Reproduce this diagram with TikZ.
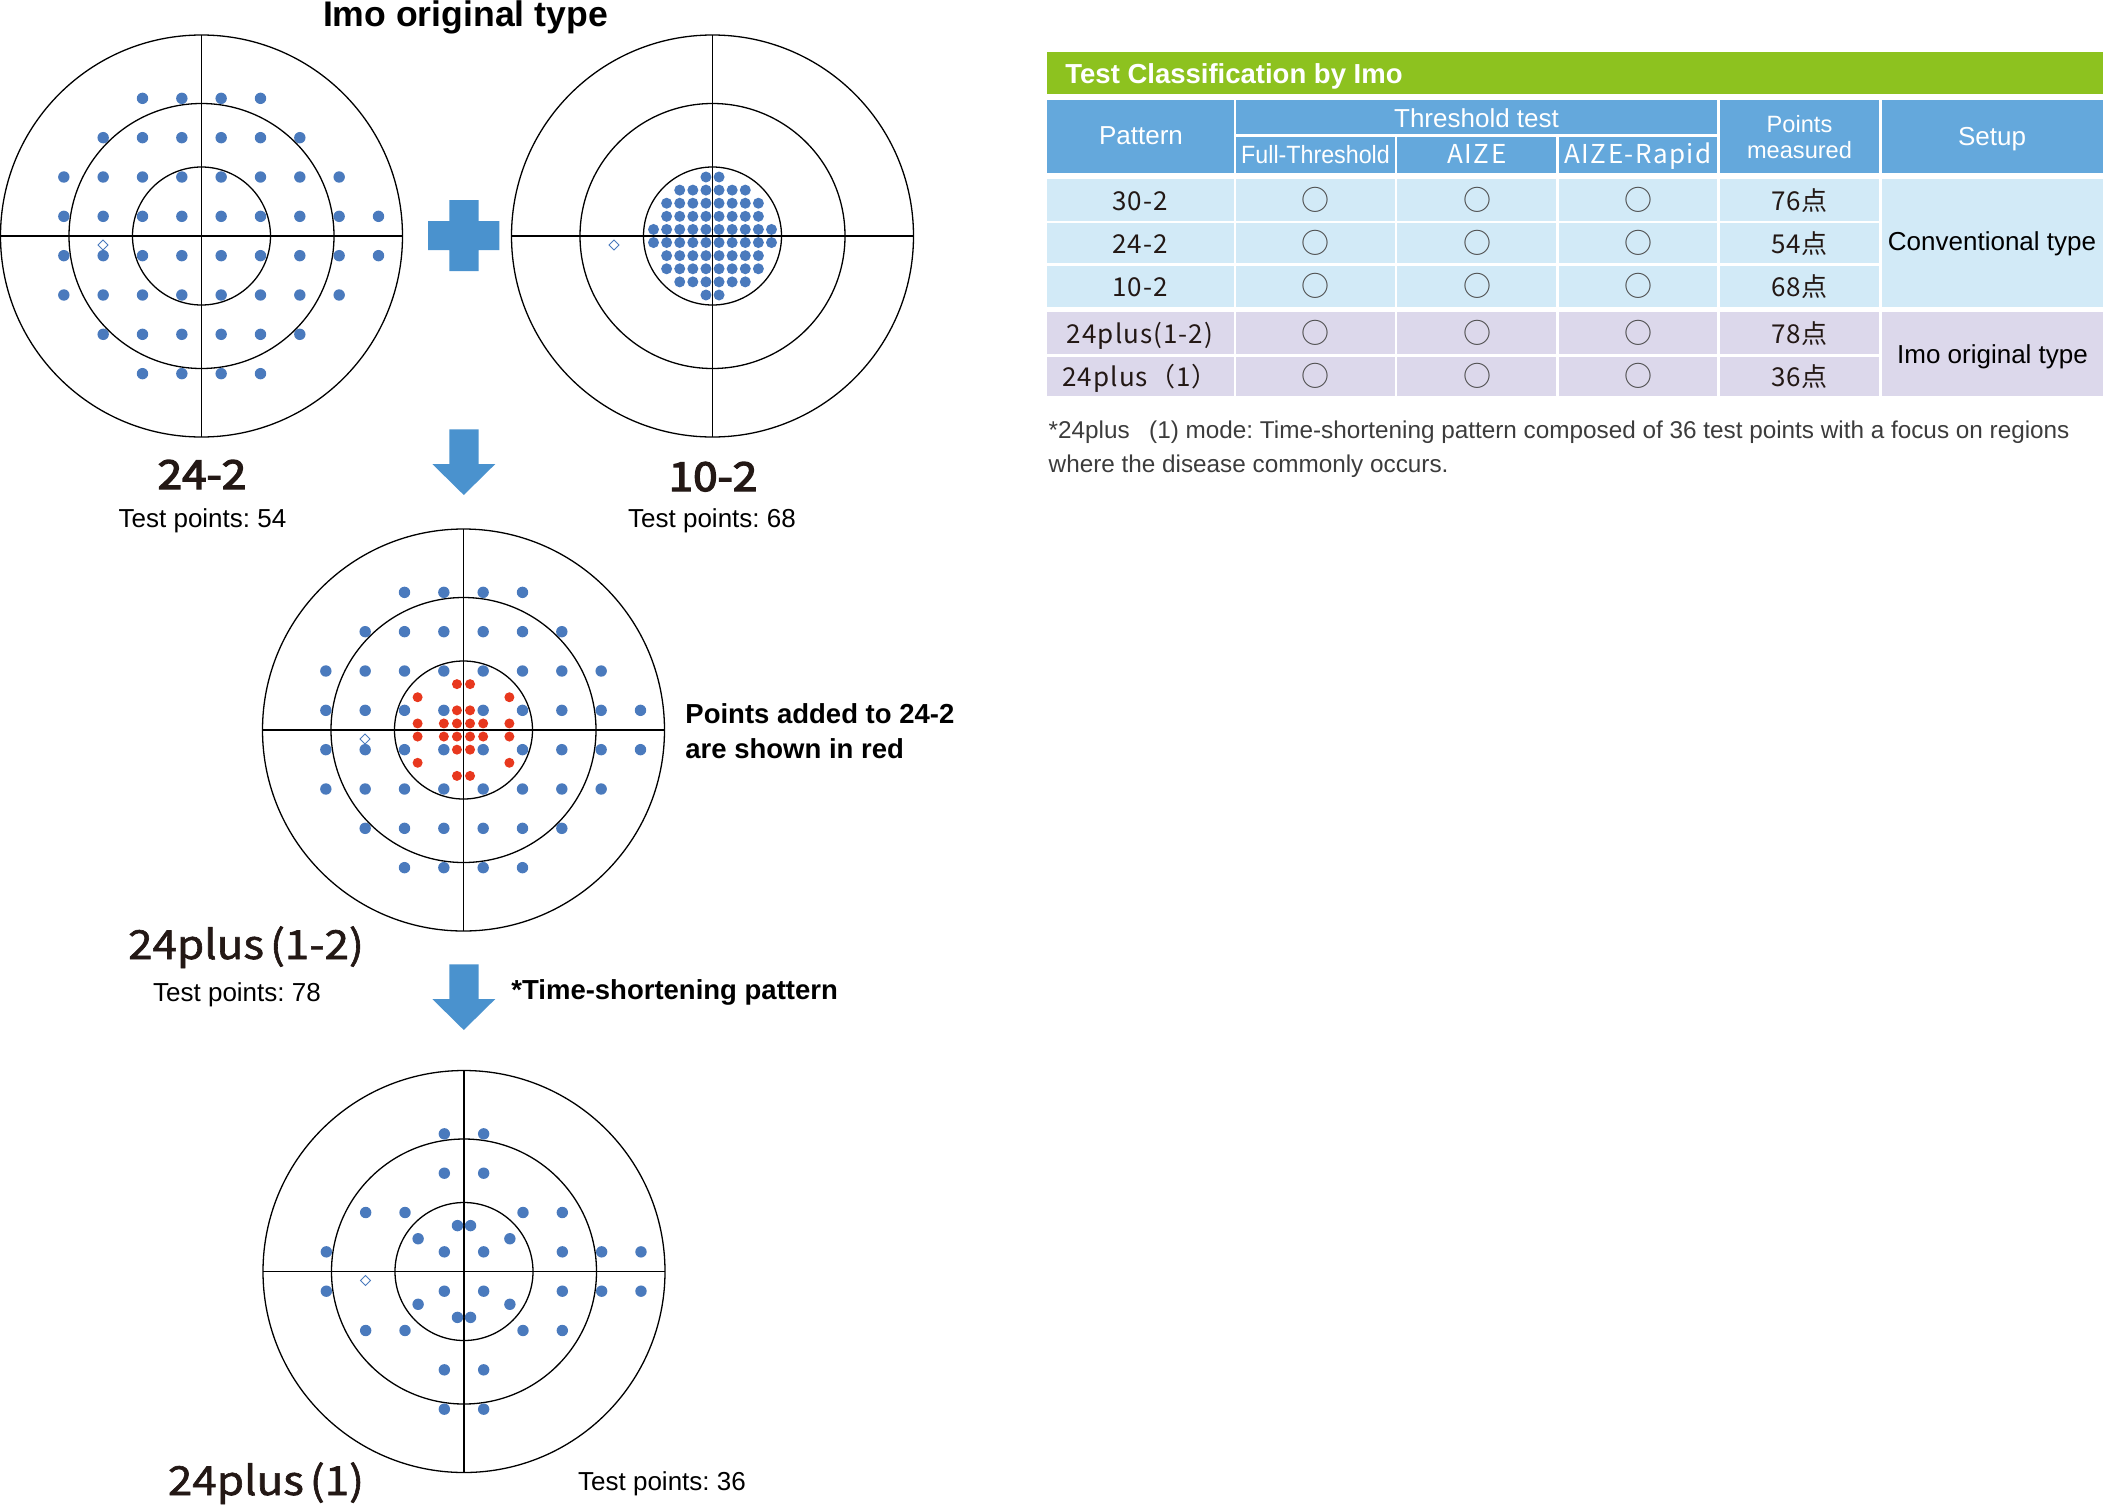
\documentclass[tikz,border=0pt]{standalone}
\usepackage{fontspec}
\setmainfont{Liberation Sans}
\newfontfamily\jpfont{Noto Sans CJK JP}
\newfontfamily\jpwide[LetterSpace=4]{Noto Sans CJK JP}
\newfontfamily\jpspaced[LetterSpace=5.5]{Noto Sans CJK JP}
\newfontfamily\labelfont[FakeStretch=1.1, FakeBold=1.5]{Noto Sans CJK JP}
\newfontfamily\labelsemi[FakeStretch=1.1, FakeBold=3.5]{Noto Sans CJK JP}
\newfontfamily\narrowfont[FakeStretch=0.93]{Liberation Sans}
\usepackage{xcolor}
\usepackage{tikz}
\frenchspacing

\definecolor{dotblue}{RGB}{74,122,189}
\definecolor{dotred}{RGB}{232,56,30}
\definecolor{arrowblue}{RGB}{74,146,206}
\definecolor{barGreen}{RGB}{141,194,31}
\definecolor{headBlue}{RGB}{100,168,220}
\definecolor{rowBlue}{RGB}{210,234,247}
\definecolor{rowPurple}{RGB}{220,216,235}
\definecolor{inkdark}{RGB}{35,24,21}
\definecolor{notegray}{RGB}{60,60,60}

\begin{document}
\begin{tikzpicture}[x=0.5pt, y=-0.5pt,
        every node/.style={inner sep=0pt},
        ring/.style={draw=black, line width=0.65pt},
        spot/.style={draw=dotblue, line width=0.45pt, fill=white},
        cellgap/.style={draw=white, line width=1.2pt},
        caption/.style={font=\fontsize{13}{15.6}\selectfont, anchor=base},
        bigname/.style={font=\labelfont\fontsize{20}{24}\selectfont, text=inkdark, anchor=base},
        bigbold/.style={font=\labelsemi\fontsize{20}{24}\selectfont, text=inkdark, anchor=base},
        boldnote/.style={font=\bfseries\fontsize{13.75}{16.5}\selectfont, anchor=base west},
        headtext/.style={font=\fontsize{13}{15.6}\selectfont, text=white, anchor=base},
        bodytext/.style={font=\jpwide\fontsize{13}{15.6}\selectfont, text=inkdark, anchor=base},
        okmark/.style={font=\jpfont\fontsize{14}{16}\selectfont, text=black!70},
        footnote/.style={font=\fontsize{12.15}{14.6}\selectfont, text=notegray, anchor=base west}
    ]
    \useasboundingbox (0,0) rectangle (2103,1510);

    % visual fields: rings, axes, blind spot
    \foreach \name/\cx/\cy in {f242/201.5/236, f102/712.5/236, fplus/463.5/730, fshort/464/1271.5} {
        \coordinate (\name) at (\cx,\cy);
        \begin{scope}[shift={(\cx,\cy)}]
            \draw[ring] (0,0) circle[radius=201] (0,0) circle[radius=132.5] (0,0) circle[radius=69];
            \draw[ring] (-201,0) -- (201,0) (0,-201) -- (0,201);
            \draw[spot] (-103.5,9) -- (-98.5,4) -- (-93.5,9) -- (-98.5,14) -- cycle;
        \end{scope}
    }

    % 24-2 grid (also the blue part of 24plus(1-2))
    \foreach \cx/\cy in {201.5/236, 463.5/730}
        \foreach \y/\a/\b in {-3.5/-1.5/1.5, -2.5/-2.5/2.5, -1.5/-3.5/3.5, -0.5/-3.5/4.5,
                              0.5/-3.5/4.5, 1.5/-3.5/3.5, 2.5/-2.5/2.5, 3.5/-1.5/1.5}
            \foreach \x in {\a,...,\b}
                \fill[dotblue] ({\cx+\x*39.33},{\cy+\y*39.33}) circle[radius=5.7];

    % 10-2 grid
    \foreach \y/\a/\b in {-4.5/-0.5/0.5, -3.5/-2.5/2.5, -2.5/-3.5/3.5, -1.5/-3.5/3.5, -0.5/-4.5/4.5,
                          0.5/-4.5/4.5, 1.5/-3.5/3.5, 2.5/-3.5/3.5, 3.5/-2.5/2.5, 4.5/-0.5/0.5}
        \foreach \x in {\a,...,\b}
            \fill[dotblue] ({712.5+\x*13.11},{236+\y*13.11}) circle[radius=5.5];

    % added points of 24plus(1-2)
    \foreach \sx in {-1,1}
        \foreach \sy in {-1,1}
            \foreach \x/\y in {0.5/3.5, 3.5/2.5, 0.5/1.5, 0.5/0.5, 1.5/0.5, 3.5/0.5}
                \fill[dotred] ({463.5+\sx*\x*13.11},{730+\sy*\y*13.11}) circle[radius=5];

    % 24plus(1)
    \foreach \sy in {-1,1}
        \foreach \x/\y in {-3.5/0.5, -0.5/0.5, 0.5/0.5, 2.5/0.5, 3.5/0.5, 4.5/0.5, -2.5/1.5, -1.5/1.5,
                           1.5/1.5, 2.5/1.5, -0.5/2.5, 0.5/2.5, -0.5/3.5, 0.5/3.5}
            \fill[dotblue] ({464+\x*39.33},{1271.5+\sy*\y*39.33}) circle[radius=5.7];
    \foreach \sx in {-1,1}
        \foreach \sy in {-1,1}
            \foreach \x/\y in {0.5/3.5, 3.5/2.5}
                \fill[dotblue] ({464+\sx*\x*13.11},{1271.5+\sy*\y*13.11}) circle[radius=5.7];

    % plus and down arrows
    \fill[arrowblue] (449.3,200) rectangle (478.7,271) (428,221) rectangle (499.3,250);
    \foreach \dy in {0,535} {
        \begin{scope}[shift={(0,\dy)}]
            \fill[arrowblue] (449.3,429.3) -- (478.7,429.3) -- (478.7,464) -- (495.3,464)
                -- (463.8,495) -- (432.3,464) -- (449.3,464) -- cycle;
        \end{scope}
    }

    % labels
    \node[font=\bfseries\fontsize{17.8}{21}\selectfont, anchor=base] (title) at (465.5,26) {Imo original type};
    \node[bigbold] (name242) at (202,489) {24-2};
    \node[caption] (pts242) at (202.5,527.5) {Test points: 54};
    \node[bigbold] (name102) at (713,491) {10-2};
    \node[caption] (pts102) at (712,527) {Test points: 68};
    \node[bigname] (nameplus) at (246,959) {24plus\kern3pt(1-2)};
    \node[caption] (ptsplus) at (237,1001.7) {Test points: 78};
    \node[boldnote] (addnote1) at (685,723) {Points added to 24-2};
    \node[boldnote] (addnote2) at (685,758) {are shown in red};
    \node[boldnote] (shortnote) at (511,999.3) {*Time-shortening pattern};
    \node[bigname] (nameshort) at (266,1495) {24plus\kern3pt(1)};
    \node[caption] (ptsshort) at (662,1490) {Test points: 36};

    % table
    \fill[barGreen] (1047,51.7) rectangle (2103,94);
    \node[font=\bfseries\fontsize{13.75}{16.5}\selectfont, text=white, anchor=base west] (tabtitle) at (1065,83.3) {Test Classification by Imo};
    \fill[headBlue] (1047,100) rectangle (2103,173.3);
    \fill[rowBlue] (1047,179.3) rectangle (2103,306.7);
    \fill[rowPurple] (1047,312.3) rectangle (2103,395.7);
    \draw[cellgap] (1235,100) -- (1235,395.7) (1718.5,100) -- (1718.5,395.7) (1880.5,100) -- (1880.5,395.7)
        (1396,135.5) -- (1396,395.7) (1557.5,135.5) -- (1557.5,395.7) (1235,135.5) -- (1718.5,135.5)
        (1047,222.2) -- (1880.5,222.2) (1047,264.5) -- (1880.5,264.5) (1047,355.5) -- (1880.5,355.5);

    \node[headtext] (hpattern) at (1141,144) {Pattern};
    \node[headtext] (hthresh) at (1476.5,127.3) {Threshold test};
    \node[headtext, font=\narrowfont\fontsize{12.5}{15}\selectfont] (hfull) at (1315.5,163.3) {Full-Threshold};
    \node[headtext, font=\jpspaced\fontsize{13}{15.6}\selectfont] (haize) at (1477,163.3) {AIZE};
    \node[headtext, font=\jpspaced\fontsize{13}{15.6}\selectfont] (hrapid) at (1638,163.3) {AIZE-Rapid};
    \node[headtext, font=\fontsize{11.8}{12.8}\selectfont, align=center, anchor=center] (hpoints) at (1799.5,137) {Points\\measured};
    \node[headtext] (hsetup) at (1992,145) {Setup};

    \foreach \lbl/\by [count=\r] in {30-2/210, 24-2/253.3, 10-2/296.2, 24plus(1-2)/343.3, 24plus（1）/386.2}
        \node[bodytext] (pat\r) at (1140,\by) {\lbl};
    \foreach \ry [count=\r] in {200,243.3,286.2,333.3,376.2}
        \foreach \mx [count=\c] in {1315.5,1477,1638}
            \node[okmark] (ok\r\c) at (\mx,\ry) {○};
    \foreach \pts/\by [count=\r] in {76/210, 54/253.3, 68/296.2, 78/343.3, 36/386.2}
        \node[bodytext] (num\r) at (1799.5,\by) {\pts 点};
    \node[caption] (setconv) at (1992,250.7) {Conventional type};
    \node[caption] (setimo) at (1992.5,363.3) {Imo original type};

    \node[footnote] (note1) at (1048.3,438.3) {*24plus\hspace{0.8em}(1) mode: Time-shortening pattern composed of 36 test points with a focus on regions};
    \node[footnote] (note2) at (1048.3,472.7) {where the disease commonly occurs.};
\end{tikzpicture}
\end{document}
